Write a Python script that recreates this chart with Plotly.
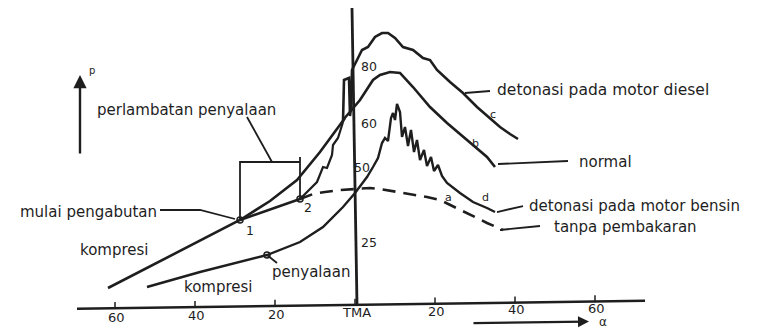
import plotly.graph_objects as go

# ---------------- data (crank angle alpha in degrees, TMA = 0; pressure p in arbitrary units) ----------
# compression line up to the start of injection (point 1) and on to the junction near TMA
alpha_upper = [-61.75, -28.75, -21.25, -14.5, -8.75, -2.5]
p_upper = [5.0, 27.67, 34.0, 41.0, 50.33, 61.67]

# compression without ignition between point 1 and point 2
alpha_12 = [-28.75, -13.75]
p_12 = [27.67, 34.67]

# jagged rise from point 2 to the junction
alpha_rise2 = [-13.75, -9.5, -8.0, -7.0, -5.75, -5.5, -4.25, -3.0]
p_rise2 = [34.67, 40.33, 45.33, 45.0, 49.33, 52.67, 55.0, 60.33]

# curve c: detonasi pada motor diesel
alpha_c = [-3.0, -2.75, -1.5, -1.25, -1.0, -0.75, 0.5, 1.75, 3.25, 5.0, 6.75, 8.25, 10.0, 12.0,
           14.5, 17.0, 18.75, 20.5, 23.75, 27.0, 30.5, 33.75, 36.25, 38.75, 40.75]
p_c = [60.33, 74.33, 75.0, 62.33, 65.0, 77.67, 81.0, 84.33, 85.33, 88.67, 90.0, 90.0, 88.33, 85.33,
       84.33, 81.67, 81.0, 77.67, 73.67, 70.0, 65.33, 61.67, 58.67, 56.33, 54.67]

# curve b: normal
alpha_b = [-3.0, -1.25, 1.25, 4.5, 6.25, 8.75, 11.25, 14.5, 18.75, 23.0, 28.0, 33.0, 35.0]
p_b = [61.0, 63.67, 67.67, 74.33, 76.0, 77.0, 76.67, 72.0, 65.33, 60.0, 54.33, 48.67, 45.33]

# curve d: detonasi pada motor bensin (lower compression curve, ignition, knock)
alpha_d = [-52.0, -38.75, -22.0, -13.75, -8.0, -3.0, 0.0, 3.0, 4.5, 5.75, 6.75, 7.5, 8.25, 9.0,
           9.5, 10.0, 10.5, 11.25, 11.75, 12.5, 13.25, 14.0, 14.75, 15.5, 16.25, 17.25, 18.0,
           19.0, 19.75, 20.75, 21.75, 23.0, 26.25, 29.5, 33.0, 35.0]
p_d = [5.33, 10.33, 16.0, 20.33, 25.33, 32.0, 36.67, 42.0, 45.33, 48.33, 53.33, 55.0, 54.0, 61.67,
       63.33, 61.0, 66.33, 63.67, 55.33, 58.67, 52.33, 57.67, 50.33, 54.33, 47.67, 51.0, 45.67,
       48.67, 44.0, 46.0, 42.33, 40.0, 36.67, 33.67, 31.67, 30.33]

# curve a: tanpa pembakaran (dashed)
alpha_a = [-13.75, -10.5, -7.5, -3.75, 0.0, 3.75, 6.25, 9.25, 12.5, 18.0, 21.25, 25.5, 30.5, 33.0, 37.0]
p_a = [34.67, 36.33, 37.0, 37.67, 38.0, 38.33, 38.0, 37.33, 36.67, 35.33, 34.33, 31.67, 28.33, 26.67, 24.33]

# marked points: 1 (mulai pengabutan), 2, penyalaan
alpha_pts = [-28.75, -13.75, -22.0]
p_pts = [27.67, 34.67, 16.0]

# axis ticks
tick_alpha = [-60, -40, -20, 0, 20, 40, 60]
tick_labels = ["60", "40", "20", "TMA", "20", "40", "60"]

# pressure labels on the TMA line
tma_labels = ["80", "60", "50", "25"]
tma_label_p = [78.67, 60.0, 45.33, 20.33]

# ---------------- drawing ----------------
INK = "#1e1e1e"
FONT = "DejaVu Sans"
fig = go.Figure()


def line(x, y, w=2.6, dash="solid"):
    fig.add_trace(go.Scatter(x=x, y=y, mode="lines", hoverinfo="skip",
                             line=dict(color=INK, width=w, dash=dash, shape="linear")))


# tilt of the scanned baseline
def base(a):
    return 0.67 + 0.0188 * a


# axis line and TMA vertical
line([-69.5, 72.5], [base(-69.5) - 1.3, base(72.5) - 1.3], w=2.6)
line([0.5, -0.75], [base(0) - 1.3, 98.3], w=2.8)
fig.add_trace(go.Scatter(x=tick_alpha, y=[base(a) - 0.4 for a in tick_alpha], mode="markers",
                         hoverinfo="skip",
                         marker=dict(symbol="line-ns-open", size=5, color=INK,
                                     line=dict(color=INK, width=1.5))))

# curves
line(alpha_upper, p_upper)
line(alpha_12, p_12)
line(alpha_rise2, p_rise2, w=2.2)
line(alpha_c, p_c)
line(alpha_b, p_b)
line(alpha_d, p_d, w=2.4)
line(alpha_a, p_a, w=2.6, dash="13px,8px")

fig.add_trace(go.Scatter(x=alpha_pts, y=p_pts, mode="markers", hoverinfo="skip",
                         marker=dict(symbol="circle-open", size=6, color=INK, line=dict(width=1.5))))

# bracket for the ignition delay between point 1 and point 2
a1, a2 = alpha_pts[0], alpha_pts[1]
line([a1, a1], [p_pts[0], 47.33], w=1.8)
line([a1, a2], [47.0, 47.0], w=1.8)
line([a2, a2], [48.67, 34.33], w=1.8)

# leader lines
leaders = [
    ([-27.0, -20.75], [62.0, 47.0]),
    ([-48.75, -38.75, -30.0], [31.0, 31.0, 28.0]),
    ([-22.0, -19.5], [16.0, 13.33]),
    ([27.5, 33.75], [70.0, 70.67]),
    ([35.75, 53.25], [46.33, 47.33]),
    ([35.5, 42.0], [30.33, 32.33]),
    ([36.25, 46.25], [24.33, 25.67]),
]
for lx, ly in leaders:
    line(lx, ly, w=1.8)

ann = []


def text(x, y, s, size=14.5, xanchor="left"):
    ann.append(dict(x=x, y=y, text=s, showarrow=False, xanchor=xanchor, yanchor="middle",
                    font=dict(family=FONT, size=size, color=INK)))


text(-65.0, 64.33, "perlambatan penyalaan", size=15)
text(-49.0, 30.33, "mulai pengabutan", size=15, xanchor="right")
text(-69.25, 17.67, "kompresi", size=15)
text(-43.25, 5.33, "kompresi", size=15)
text(-21.25, 10.33, "penyalaan", size=15)
text(35.0, 71.0, "detonasi pada motor diesel", size=15.5)
text(55.5, 47.0, "normal", size=15)
text(43.0, 32.33, "detonasi pada motor bensin", size=15)
text(49.25, 25.33, "tanpa pembakaran", size=15)

for s, pv in zip(tma_labels, tma_label_p):
    text(0.9 if s != "50" else -0.8, pv, s, size=12.5)

text(-26.25, 24.33, "1", size=12.5, xanchor="center")
text(-11.75, 32.0, "2", size=12.5, xanchor="center")
text(23.25, 35.33, "a", size=11, xanchor="center")
text(30.0, 53.33, "b", size=11, xanchor="center")
text(34.5, 62.67, "c", size=11, xanchor="center")
text(32.5, 35.33, "d", size=11, xanchor="center")

for a, s in zip(tick_alpha, tick_labels):
    text(a + 0.3, -3.3 + 0.025 * a, s, size=13, xanchor="center")

# axis arrows and their labels
ann.append(dict(x=-68.75, y=76.0, ax=-68.75, ay=49.33, xref="x", yref="y", axref="x", ayref="y",
                showarrow=True, arrowhead=2, arrowsize=1.1, arrowwidth=2.4, arrowcolor=INK, text=""))
ann.append(dict(x=58.5, y=-6.2, ax=29.25, ay=-6.7, xref="x", yref="y", axref="x", ayref="y",
                showarrow=True, arrowhead=2, arrowsize=1.0, arrowwidth=2.2, arrowcolor=INK, text=""))
text(-67.0, 77.5, "p", size=10)
text(62.0, -6.4, "α", size=12, xanchor="center")

fig.update_layout(
    width=759, height=331,
    margin=dict(l=0, r=0, t=0, b=0),
    paper_bgcolor="white", plot_bgcolor="white",
    showlegend=False,
    xaxis=dict(range=[-88.75, 101.0], visible=False, fixedrange=True),
    yaxis=dict(range=[-9.333, 101.0], visible=False, fixedrange=True),
    annotations=ann,
)

fig.write_html("out.html", config={"displayModeBar": False, "staticPlot": True},
               post_script="document.body.style.margin='0';document.body.style.overflow='hidden';")
